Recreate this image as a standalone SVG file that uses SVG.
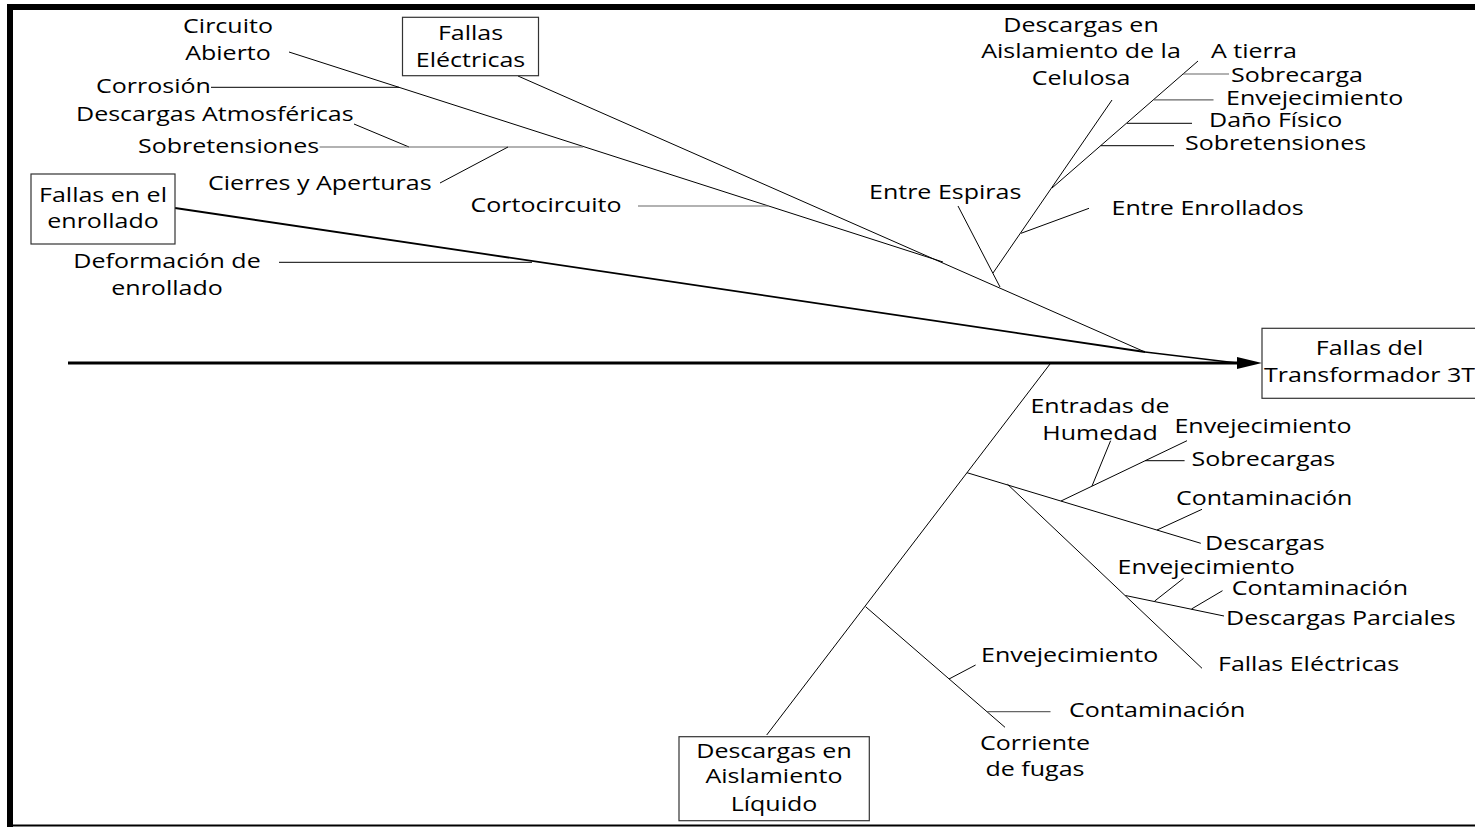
<svg xmlns="http://www.w3.org/2000/svg" width="1475" height="827" viewBox="0 0 1475 827">
<style>
.t{font-family:"Open Sans","Noto Sans","DejaVu Sans",sans-serif;font-size:20.5px;fill:#000}
.m{text-anchor:middle}
.ln{stroke:#000;stroke-width:1;fill:none}
.gr{stroke:#666;stroke-width:1.2;fill:none}
.bx{fill:#fff;stroke:#333;stroke-width:1.2}
</style>
<defs>
<marker id="arr" markerUnits="userSpaceOnUse" markerWidth="26" markerHeight="13" refX="3" refY="6" orient="auto">
<path d="M0,0 L25,6 L0,12 z" fill="#000"/>
</marker>
</defs>
<rect width="1475" height="827" fill="#fff"/>
<g id="frame">
<rect x="7" y="4" width="1468" height="6" fill="#000"/>
<rect x="7" y="4" width="6" height="823" fill="#000"/>
<line x1="7" y1="825.5" x2="1475" y2="825.5" stroke="#000" stroke-width="2"/>
</g>
<g id="connectors">
<line x1="68" y1="363" x2="1240" y2="363" stroke="#000" stroke-width="3" marker-end="url(#arr)"/>
<line class="ln" x1="518" y1="76" x2="1145" y2="352"/>
<line class="ln" x1="289" y1="52" x2="943" y2="262"/>
<line class="ln" x1="211" y1="87.3" x2="399" y2="87.3"/>
<line class="ln" x1="354" y1="124" x2="409" y2="147"/>
<line class="gr" x1="319.5" y1="147" x2="583" y2="147"/>
<line class="ln" x1="440" y1="183" x2="508" y2="147"/>
<line class="gr" x1="638" y1="206" x2="768" y2="206"/>
<line x1="175" y1="208" x2="1145" y2="352" stroke="#000" stroke-width="1.8"/>
<line class="ln" x1="279" y1="262.3" x2="532" y2="262.3"/>
<line x1="1145" y1="352" x2="1237" y2="363" stroke="#000" stroke-width="1.5"/>
<line class="ln" x1="958" y1="206" x2="1000" y2="287"/>
<line class="ln" x1="1112" y1="100" x2="993" y2="273"/>
<line class="ln" x1="1198" y1="61" x2="1052" y2="188"/>
<line class="gr" x1="1182.7" y1="74" x2="1229" y2="74"/>
<line class="gr" x1="1154" y1="99.8" x2="1213.5" y2="99.8"/>
<line class="ln" x1="1127" y1="123.3" x2="1192" y2="123.3"/>
<line class="ln" x1="1100.7" y1="145.7" x2="1174" y2="145.7"/>
<line class="ln" x1="1089" y1="208.3" x2="1021" y2="233.3"/>
<line class="ln" x1="1050" y1="364" x2="766.7" y2="735"/>
<line class="ln" x1="967" y1="472.7" x2="1200.8" y2="543.3"/>
<line class="ln" x1="1007.5" y1="484.3" x2="1202" y2="668.3"/>
<line class="ln" x1="1061" y1="501" x2="1187" y2="440.7"/>
<line class="ln" x1="1110.6" y1="440.7" x2="1092" y2="486"/>
<line class="ln" x1="1145" y1="460.7" x2="1184.6" y2="460.7"/>
<line class="ln" x1="1157" y1="530" x2="1202" y2="509.3"/>
<line class="ln" x1="1125.4" y1="595.5" x2="1224" y2="616"/>
<line class="ln" x1="1183.6" y1="578.3" x2="1154.5" y2="601.2"/>
<line class="ln" x1="1222.5" y1="590.7" x2="1191.5" y2="609"/>
<line class="ln" x1="865.6" y1="606.7" x2="1005" y2="727.3"/>
<line class="ln" x1="975.6" y1="665" x2="949" y2="679"/>
<line class="gr" x1="987" y1="711.7" x2="1050.5" y2="711.7"/>
</g>
<g id="head">
<rect class="bx" x="1262" y="328.3" width="216" height="70"/>
<text class="t m" transform="translate(1369.5,355) scale(1.22,1)"><tspan x="0">Fallas del</tspan><tspan x="0" dy="26.7">Transformador 3T</tspan></text>
</g>
<g id="fallas-electricas">
<rect class="bx" x="402.5" y="17.3" width="136" height="58.4"/>
<text class="t m" transform="translate(470.5,40) scale(1.22,1)"><tspan x="0">Fallas</tspan><tspan x="0" dy="26.7">Eléctricas</tspan></text>
</g>
<g id="fallas-enrollado">
<rect class="bx" x="31" y="174" width="144" height="70"/>
<text class="t m" transform="translate(103,201.7) scale(1.22,1)"><tspan x="0">Fallas en el</tspan><tspan x="0" dy="26.6">enrollado</tspan></text>
</g>
<g id="aislamiento-liquido">
<rect class="bx" x="679" y="736.7" width="190.3" height="84"/>
<text class="t m" transform="translate(774,757.7) scale(1.22,1)"><tspan x="0">Descargas en</tspan><tspan x="0" dy="25.8">Aislamiento</tspan><tspan x="0" dy="27.2">Líquido</tspan></text>
</g>
<g id="circuito-abierto"><text class="t m" transform="translate(228,33.3) scale(1.22,1)"><tspan x="0">Circuito</tspan><tspan x="0" dy="26.7">Abierto</tspan></text></g>
<g id="corrosion"><text class="t" transform="translate(96,93.3) scale(1.22,1)">Corrosión</text></g>
<g id="descargas-atm"><text class="t" transform="translate(76,120.7) scale(1.22,1)">Descargas Atmosféricas</text></g>
<g id="sobretensiones-l"><text class="t" transform="translate(138,153.3) scale(1.22,1)">Sobretensiones</text></g>
<g id="cierres"><text class="t" transform="translate(208,190) scale(1.22,1)">Cierres y Aperturas</text></g>
<g id="cortocircuito"><text class="t" transform="translate(470.5,211.7) scale(1.22,1)">Cortocircuito</text></g>
<g id="deformacion"><text class="t m" transform="translate(167,268.3) scale(1.22,1)"><tspan x="0">Deformación de</tspan><tspan x="0" dy="26.7">enrollado</tspan></text></g>
<g id="celulosa"><text class="t m" transform="translate(1081,31.7) scale(1.22,1)"><tspan x="0">Descargas en</tspan><tspan x="0" dy="26.6">Aislamiento de la</tspan><tspan x="0" dy="26.7">Celulosa</tspan></text></g>
<g id="a-tierra"><text class="t" transform="translate(1211,58) scale(1.22,1)">A tierra</text></g>
<g id="sobrecarga"><text class="t" transform="translate(1231,82) scale(1.22,1)">Sobrecarga</text></g>
<g id="envejecimiento-1"><text class="t" transform="translate(1226,105) scale(1.22,1)">Envejecimiento</text></g>
<g id="dano-fisico"><text class="t" transform="translate(1209,126.7) scale(1.22,1)">Daño Físico</text></g>
<g id="sobretensiones-r"><text class="t" transform="translate(1185,150) scale(1.22,1)">Sobretensiones</text></g>
<g id="entre-espiras"><text class="t" transform="translate(869,199.3) scale(1.22,1)">Entre Espiras</text></g>
<g id="entre-enrollados"><text class="t" transform="translate(1111.5,215) scale(1.22,1)">Entre Enrollados</text></g>
<g id="humedad"><text class="t m" transform="translate(1100,412.7) scale(1.22,1)"><tspan x="0">Entradas de</tspan><tspan x="0" dy="27.3">Humedad</tspan></text></g>
<g id="envejecimiento-2"><text class="t" transform="translate(1174.4,433.3) scale(1.22,1)">Envejecimiento</text></g>
<g id="sobrecargas"><text class="t" transform="translate(1191.5,465.7) scale(1.22,1)">Sobrecargas</text></g>
<g id="contaminacion-1"><text class="t" transform="translate(1176,505) scale(1.22,1)">Contaminación</text></g>
<g id="descargas"><text class="t" transform="translate(1205,550) scale(1.22,1)">Descargas</text></g>
<g id="envejecimiento-3"><text class="t" transform="translate(1117.5,574) scale(1.22,1)">Envejecimiento</text></g>
<g id="contaminacion-2"><text class="t" transform="translate(1231.7,595) scale(1.22,1)">Contaminación</text></g>
<g id="descargas-parciales"><text class="t" transform="translate(1226,625) scale(1.22,1)">Descargas Parciales</text></g>
<g id="fallas-electricas-2"><text class="t" transform="translate(1218,670.7) scale(1.22,1)">Fallas Eléctricas</text></g>
<g id="envejecimiento-4"><text class="t" transform="translate(981,662.3) scale(1.22,1)">Envejecimiento</text></g>
<g id="contaminacion-3"><text class="t" transform="translate(1069,716.7) scale(1.22,1)">Contaminación</text></g>
<g id="corriente-fugas"><text class="t m" transform="translate(1035,750) scale(1.22,1)"><tspan x="0">Corriente</tspan><tspan x="0" dy="26">de fugas</tspan></text></g>
</svg>
